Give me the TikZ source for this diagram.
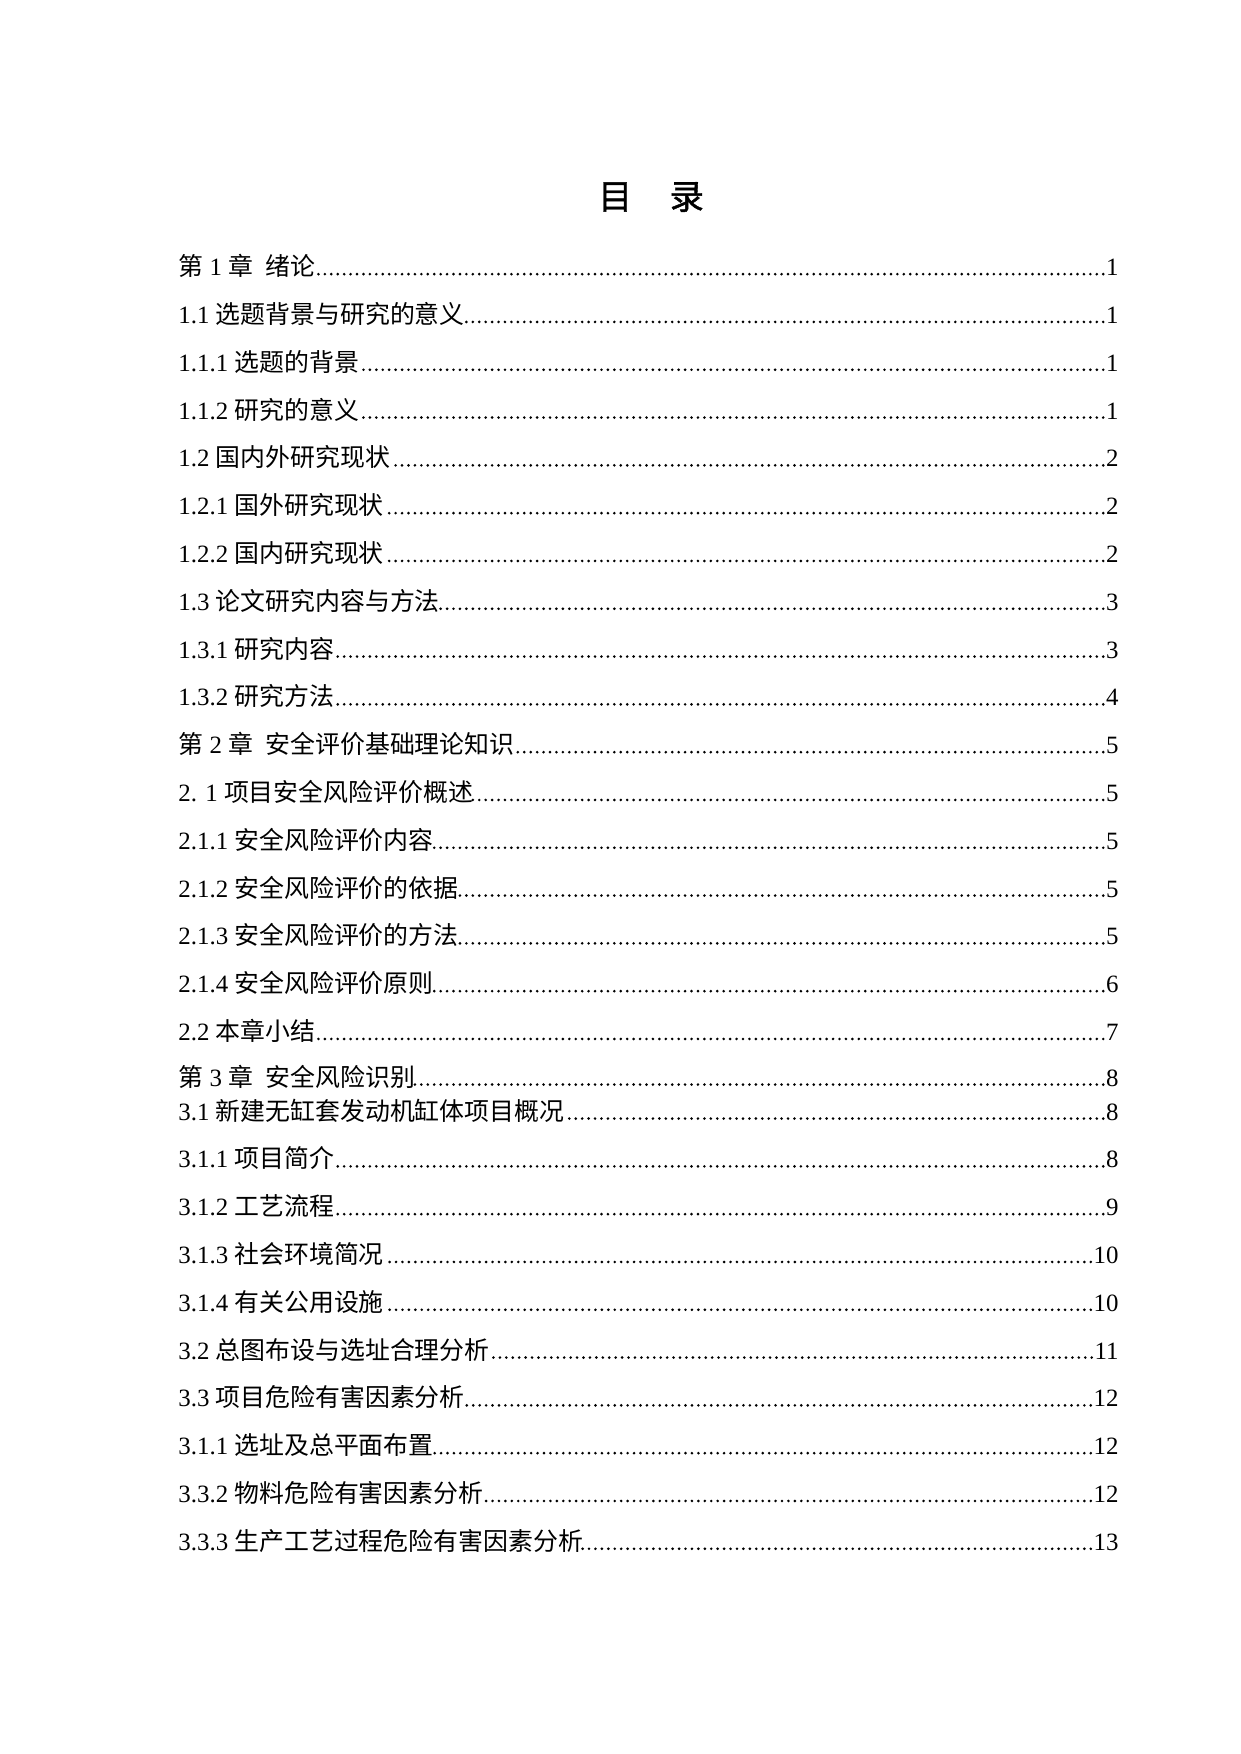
\documentclass[tikz,border=0pt]{standalone}
\usepackage{fontspec}
\setmainfont{Liberation Serif}
\newfontfamily\cjk{Noto Sans CJK SC}
\newfontfamily\cjktitle{Noto Sans CJK SC}[FakeBold = 1.2]
\newcommand{\zh}[1]{{\cjk #1}}

\begin{document}
\begin{tikzpicture}[x = 0.016935cm, y = -0.016935cm,
	entry/.style = {anchor = base west, inner sep = 0pt, font = \fontsize{12}{14}\selectfont},
	pagenum/.style = {anchor = base east, inner sep = 0pt, font = \fontsize{12}{14}\selectfont},
	leader/.style = {line width = 1.4pt, line cap = round, dash pattern = on 0pt off 3.1pt}]

	\useasboundingbox (0, 0) rectangle (1240, 1754);

	\node [font = \cjktitle\fontsize{16.5}{18}\selectfont] (title) at (651, 197) {目\hspace{18pt}录};

	\foreach \y/\lbl/\pg [count = \i] in {
		275.6/{\zh{第} 1 \zh{章}\ \ \zh{绪论}}/1,
		323.4/{1.1 \zh{选题背景与研究的意义}}/1,
		371.2/{1.1.1 \zh{选题的背景}}/1,
		419.0/{1.1.2 \zh{研究的意义}}/1,
		466.8/{1.2 \zh{国内外研究现状}}/2,
		514.6/{1.2.1 \zh{国外研究现状}}/2,
		562.4/{1.2.2 \zh{国内研究现状}}/2,
		610.2/{1.3 \zh{论文研究内容与方法}}/3,
		658.0/{1.3.1 \zh{研究内容}}/3,
		705.8/{1.3.2 \zh{研究方法}}/4,
		753.6/{\zh{第} 2 \zh{章}\ \ \zh{安全评价基础理论知识}}/5,
		801.4/{2. 1 \zh{项目安全风险评价概述}}/5,
		849.2/{2.1.1 \zh{安全风险评价内容}}/5,
		897.0/{2.1.2 \zh{安全风险评价的依据}}/5,
		944.8/{2.1.3 \zh{安全风险评价的方法}}/5,
		992.6/{2.1.4 \zh{安全风险评价原则}}/6,
		1040.4/{2.2 \zh{本章小结}}/7,
		1086.0/{\zh{第} 3 \zh{章}\ \ \zh{安全风险识别}}/8,
		1120.0/{3.1 \zh{新建无缸套发动机缸体项目概况}}/8,
		1167.8/{3.1.1 \zh{项目简介}}/8,
		1215.6/{3.1.2 \zh{工艺流程}}/9,
		1263.4/{3.1.3 \zh{社会环境简况}}/10,
		1311.2/{3.1.4 \zh{有关公用设施}}/10,
		1359.0/{3.2 \zh{总图布设与选址合理分析}}/11,
		1406.8/{3.3 \zh{项目危险有害因素分析}}/12,
		1454.6/{3.1.1 \zh{选址及总平面布置}}/12,
		1502.4/{3.3.2 \zh{物料危险有害因素分析}}/12,
		1550.2/{3.3.3 \zh{生产工艺过程危险有害因素分析}}/13} {

		\node [entry] (t\i) at (178, \y) {\lbl};
		\node [pagenum] (p\i) at (1119, \y) {\pg};
		\draw [leader] ([xshift = -1.2pt, yshift = 0.7pt] p\i.base west) -- ([xshift = -0.5pt, yshift = 0.7pt] t\i.base east);

	}

\end{tikzpicture}
\end{document}
